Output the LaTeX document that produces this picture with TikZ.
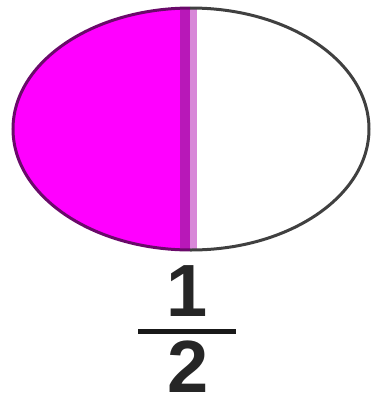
\documentclass[tikz,border=0pt]{standalone}
\usepackage{fontspec}
\setmainfont{Liberation Sans}
\definecolor{mag}{HTML}{FF00FF}
\definecolor{darkpur}{HTML}{6A0A6A}
\definecolor{band}{HTML}{B818B8}
\definecolor{lightband}{HTML}{D888D8}
\definecolor{edgegray}{HTML}{404040}
\tikzset{digit/.style={font=\fontsize{74}{74}\selectfont\bfseries, inner sep=0pt, text depth=0pt, text=black!85}}
\begin{document}
\begin{tikzpicture}[x=1pt,y=-1pt]
\useasboundingbox (0,0) rectangle (373,400);
\coordinate (c) at (191,129);
\begin{scope}
\clip (c) ellipse [x radius=178, y radius=121];
\fill[mag] (0,0) rectangle (186,260);
\fill[band] (180,0) rectangle (190,260);
\fill[lightband] (190,0) rectangle (197,260);
\end{scope}
\begin{scope}
\clip (0,0) rectangle (190,260);
\draw[darkpur, line width=3] (c) ellipse [x radius=178, y radius=121];
\end{scope}
\begin{scope}
\clip (190,0) rectangle (373,260);
\draw[edgegray, line width=3] (c) ellipse [x radius=178, y radius=121];
\end{scope}
\node[digit, anchor=base] (one) at (187,316) {1};
\draw[black!90, line width=5] (138,331) -- (236,331);
\node[digit, anchor=base] (two) at (188,392) {2};
\end{tikzpicture}
\end{document}
